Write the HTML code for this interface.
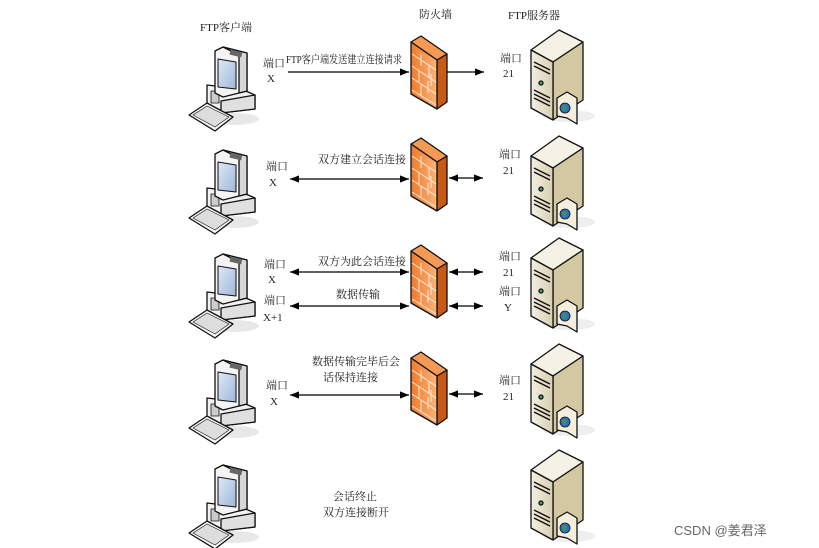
<!DOCTYPE html>
<html><head><meta charset="utf-8"><style>
html,body{margin:0;padding:0;background:#fff;width:819px;height:548px;overflow:hidden}
text{font-family:"Liberation Serif","Noto Serif CJK SC",serif;font-size:11px;fill:#222}
</style></head><body>
<svg width="819" height="548" viewBox="0 0 819 548" xmlns="http://www.w3.org/2000/svg">
<defs>
<linearGradient id="scr" x1="0" y1="0" x2="1" y2="1"><stop offset="0" stop-color="#dfe9f7"/><stop offset="1" stop-color="#9db7d9"/></linearGradient>
<linearGradient id="fw" x1="0" y1="0" x2="1" y2="0"><stop offset="0" stop-color="#f07a2a"/><stop offset="1" stop-color="#f9b37a"/></linearGradient>
<linearGradient id="sv" x1="0" y1="0" x2="1" y2="0"><stop offset="0" stop-color="#f3efe2"/><stop offset="1" stop-color="#d9cfb0"/></linearGradient>
<marker id="ah" viewBox="0 0 10 10" refX="10" refY="5" markerWidth="9" markerHeight="9" orient="auto-start-reverse" markerUnits="userSpaceOnUse"><path d="M0,1 L10,5 L0,9 z" fill="#000"/></marker>
<g id="pc" stroke="#111" stroke-width="1.3" stroke-linejoin="round">
<ellipse cx="50" cy="74" rx="24" ry="6" fill="#e8e8e8" stroke="none"/>
<polygon points="22,40 56,44 70,50 70,64 36,68 22,60" fill="#f2f2f2"/>
<polygon points="36,56 70,50 70,64 36,68" fill="#e0e0e0"/>
<rect x="26" y="46" width="8" height="12" fill="#ccc" stroke-width="0.8"/>
<polygon points="30,6 38,2 62,8 62,46 38,52 30,48" fill="#f4f4f4"/>
<polygon points="38,2 62,8 62,46 54,48 54,10" fill="#d8d8d8"/>
<polygon points="33,14 51,17 51,44 33,42" fill="url(#scr)" stroke-width="1"/>
<rect x="45" y="6" width="12" height="5" fill="#666" stroke="none" transform="rotate(14 51 8)"/>
<polygon points="4,70 22,58 48,72 30,86" fill="#f6f6f6"/>
<polygon points="8,70 22,61 44,72 30,82" fill="#ddd" stroke-width="0.6"/>
</g>
<g id="fwl" stroke="#111" stroke-width="1.3" stroke-linejoin="round">
<polygon points="0,8 10,2 36,20 26,26" fill="#f59a55"/>
<polygon points="26,26 36,20 36,68 26,75" fill="#c85a18"/>
<polygon points="0,8 26,26 26,75 0,60" fill="url(#fw)"/>
<g stroke="#fff" stroke-width="1" opacity="0.8" fill="none">
<path d="M1,20 L25,36 M1,32 L25,48 M1,44 L25,60 M1,56 L25,71"/>
<path d="M10,20 L10,32 M18,31 L18,43 M8,36 L8,48 M17,47 L17,59 M10,50 L10,62 M20,40 L20,52"/>
</g>
</g>
<g id="srv" stroke="#111" stroke-width="1.3" stroke-linejoin="round">
<ellipse cx="40" cy="88" rx="26" ry="6" fill="#eee" stroke="none"/>
<polygon points="2,22 30,2 54,14 24,34" fill="#f5f1e4"/>
<polygon points="24,34 54,14 54,72 24,92" fill="#d4c8a2"/>
<polygon points="2,22 24,34 24,92 2,80" fill="url(#sv)"/>
<path d="M5,34 L21,42 M5,38 L21,46 M5,62 L21,70 M5,66 L21,74 M5,70 L21,78" stroke-width="1.5"/>
<circle cx="12" cy="55" r="2" fill="#3a7"/>
<polygon points="28,70 38,64 48,70 48,96 38,90 28,88" fill="#f4eedc"/>
<circle cx="36" cy="80" r="5" fill="#2e6fd0" stroke-width="0.8"/>
<path d="M33,78 Q36,76 38,79 Q36,82 35,84" fill="#3c9a3c" stroke="none"/>
</g>
</defs>

<text x="200" y="31">FTP客户端</text>
<text x="419" y="18">防火墙</text>
<text x="508" y="19">FTP服务器</text>

<!-- row1 -->
<use href="#pc" x="185" y="45"/>
<use href="#fwl" x="411" y="34"/>
<use href="#srv" x="529" y="28"/>
<text x="263" y="67">端口</text><text x="267" y="82">X</text>
<text x="286" y="63" textLength="116" lengthAdjust="spacingAndGlyphs">FTP客户端发送建立连接请求</text>
<line x1="288" y1="72" x2="409" y2="72" stroke="#000" stroke-width="1.2" marker-end="url(#ah)"/>
<line x1="447" y1="72" x2="484" y2="72" stroke="#000" stroke-width="1.2" marker-end="url(#ah)"/>
<text x="500" y="62">端口</text><text x="503" y="77">21</text>

<!-- row2 -->
<use href="#pc" x="185" y="148"/>
<use href="#fwl" x="411" y="136"/>
<use href="#srv" x="529" y="134"/>
<text x="266" y="170">端口</text><text x="269" y="186">X</text>
<text x="318" y="163">双方建立会话连接</text>
<line x1="290" y1="179" x2="409" y2="179" stroke="#000" stroke-width="1.2" marker-start="url(#ah)" marker-end="url(#ah)"/>
<line x1="449" y1="178" x2="483" y2="178" stroke="#000" stroke-width="1.2" marker-start="url(#ah)" marker-end="url(#ah)"/>
<text x="499" y="158">端口</text><text x="503" y="174">21</text>

<!-- row3 -->
<use href="#pc" x="185" y="252"/>
<use href="#fwl" x="411" y="243"/>
<use href="#srv" x="529" y="236"/>
<text x="264" y="268">端口</text><text x="268" y="283">X</text>
<text x="264" y="304">端口</text><text x="263" y="321">X+1</text>
<text x="318" y="265">双方为此会话连接</text>
<text x="336" y="298">数据传输</text>
<line x1="290" y1="272" x2="409" y2="272" stroke="#000" stroke-width="1.2" marker-start="url(#ah)" marker-end="url(#ah)"/>
<line x1="290" y1="306" x2="409" y2="306" stroke="#000" stroke-width="1.2" marker-start="url(#ah)" marker-end="url(#ah)"/>
<line x1="449" y1="272" x2="483" y2="272" stroke="#000" stroke-width="1.2" marker-start="url(#ah)" marker-end="url(#ah)"/>
<line x1="449" y1="306" x2="483" y2="306" stroke="#000" stroke-width="1.2" marker-start="url(#ah)" marker-end="url(#ah)"/>
<text x="499" y="260">端口</text><text x="503" y="276">21</text>
<text x="499" y="295">端口</text><text x="504" y="311">Y</text>

<!-- row4 -->
<use href="#pc" x="185" y="358"/>
<use href="#fwl" x="411" y="350"/>
<use href="#srv" x="529" y="342"/>
<text x="266" y="389">端口</text><text x="270" y="405">X</text>
<text x="312" y="365">数据传输完毕后会</text>
<text x="323" y="381">话保持连接</text>
<line x1="290" y1="395" x2="409" y2="395" stroke="#000" stroke-width="1.2" marker-start="url(#ah)" marker-end="url(#ah)"/>
<line x1="449" y1="394" x2="483" y2="394" stroke="#000" stroke-width="1.2" marker-start="url(#ah)" marker-end="url(#ah)"/>
<text x="499" y="384">端口</text><text x="503" y="400">21</text>

<!-- row5 -->
<use href="#pc" x="185" y="463"/>
<use href="#srv" x="529" y="448"/>
<text x="333" y="500">会话终止</text>
<text x="323" y="516">双方连接断开</text>

<text x="674" y="535" style="font-family:'Liberation Sans','Noto Sans CJK SC',sans-serif;font-size:13px;fill:#666">CSDN @姜君泽</text>
</svg>
</body></html>
